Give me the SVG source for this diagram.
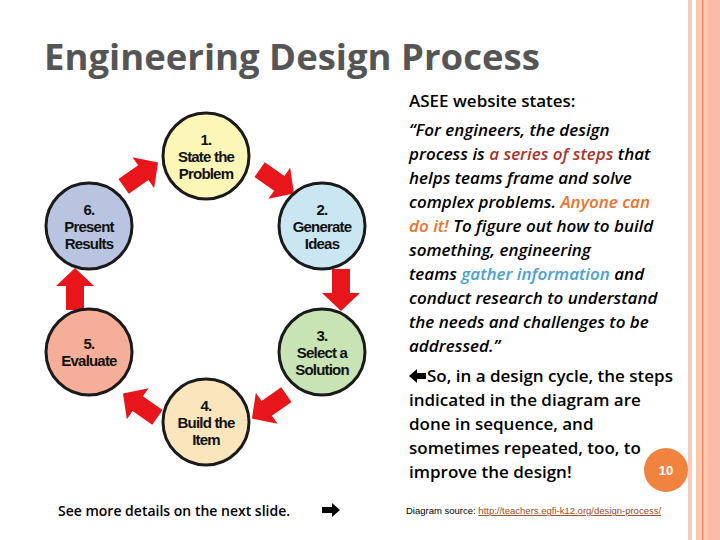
<svg xmlns="http://www.w3.org/2000/svg" width="720" height="540" viewBox="0 0 720 540">
<style>
.t{font-family:"Open Sans","Liberation Sans",sans-serif;font-size:17px;font-weight:600;fill:#000}
.n circle{stroke:#1a1a1a;stroke-width:3}
.n text{font-family:"Liberation Sans",Arial,sans-serif;font-weight:bold;font-size:15px;fill:#111;text-anchor:middle;letter-spacing:-0.8px}
.ar{fill:#e8161b}
</style>
<defs><polygon id="a" points="-20,-9 4,-9 4,-19 22,0 4,19 4,9 -20,9"/></defs>
<rect width="720" height="540" fill="#fff"/>
<rect x="688" y="0" width="4" height="540" fill="#f7cbbd"/>
<rect x="696" y="0" width="24" height="540" fill="#fcc7b3"/>
<rect x="702" y="0" width="1.5" height="540" fill="#e8905f"/>
<rect x="708" y="0" width="12" height="540" fill="#f9bca9"/>
<text x="44" y="70" font-family="Open Sans,Liberation Sans,sans-serif" font-size="36.5" font-weight="bold" fill="#555">Engineering Design Process</text>
<g id="connectors" class="ar">
<use href="#a" transform="translate(276,181) rotate(35)"/>
<use href="#a" transform="translate(341,289) rotate(90)"/>
<use href="#a" transform="translate(270,406) rotate(145)"/>
<use href="#a" transform="translate(141,406) rotate(-145)"/>
<use href="#a" transform="translate(75,290) rotate(-90)"/>
<use href="#a" transform="translate(140,175) rotate(-35)"/>
</g>
<g id="n1" class="n"><circle cx="206" cy="156" r="43" fill="#fcf7b6"/><text x="206" y="145">1.</text><text x="206" y="162">State the</text><text x="206" y="179">Problem</text></g>
<g id="n2" class="n"><circle cx="322" cy="226" r="43" fill="#c9e6f2"/><text x="322" y="215">2.</text><text x="322" y="232">Generate</text><text x="322" y="249">Ideas</text></g>
<g id="n3" class="n"><circle cx="322" cy="352" r="43" fill="#c8e3b4"/><text x="322" y="341">3.</text><text x="322" y="358">Select a</text><text x="322" y="375">Solution</text></g>
<g id="n4" class="n"><circle cx="206" cy="422" r="43" fill="#fbe5bd"/><text x="206" y="411">4.</text><text x="206" y="428">Build the</text><text x="206" y="445">Item</text></g>
<g id="n5" class="n"><circle cx="89" cy="352" r="43" fill="#f5ae98"/><text x="89" y="349">5.</text><text x="89" y="366">Evaluate</text></g>
<g id="n6" class="n"><circle cx="89" cy="226" r="43" fill="#b9c5e0"/><text x="89" y="215">6.</text><text x="89" y="232">Present</text><text x="89" y="249">Results</text></g>
<text class="t" x="409" y="107">ASEE website states:</text>
<g font-style="italic">
<text class="t" x="409" y="136">“For engineers, the design</text>
<text class="t" x="409" y="160">process is <tspan fill="#a8352b">a series of steps</tspan> that</text>
<text class="t" x="409" y="184">helps teams frame and solve</text>
<text class="t" x="409" y="208">complex problems. <tspan fill="#e8732d">Anyone can</tspan></text>
<text class="t" x="409" y="232"><tspan fill="#e8732d">do it!</tspan> To figure out how to build</text>
<text class="t" x="409" y="256">something, engineering</text>
<text class="t" x="409" y="280">teams <tspan fill="#4a9fd0">gather information</tspan> and</text>
<text class="t" x="409" y="304">conduct research to understand</text>
<text class="t" x="409" y="328">the needs and challenges to be</text>
<text class="t" x="409" y="352">addressed.”</text>
</g>
<polygon points="409,376 417,369 417,373 426,373 426,379 417,379 417,383" fill="#000"/>
<text class="t" x="427" y="382">So, in a design cycle, the steps</text>
<text class="t" x="409" y="406">indicated in the diagram are</text>
<text class="t" x="409" y="430">done in sequence, and</text>
<text class="t" x="409" y="454">sometimes repeated, too, to</text>
<text class="t" x="409" y="478">improve the design!</text>
<circle cx="666" cy="470" r="22" fill="#f0843f"/>
<text x="666" y="475" font-family="Liberation Sans,sans-serif" font-weight="bold" font-size="13" fill="#fff" text-anchor="middle">10</text>
<text x="58" y="516" font-family="Open Sans,Liberation Sans,sans-serif" font-size="14" font-weight="600" fill="#000">See more details on the next slide. </text>
<polygon points="340,510 332,503 332,507 322,507 322,513 332,513 332,517" fill="#000"/>
<text x="406" y="514" font-family="Liberation Sans,sans-serif" font-size="9.5" fill="#000">Diagram source: <tspan fill="#9a4a22" text-decoration="underline">http://teachers.egfi-k12.org/design-process/</tspan></text>
</svg>
